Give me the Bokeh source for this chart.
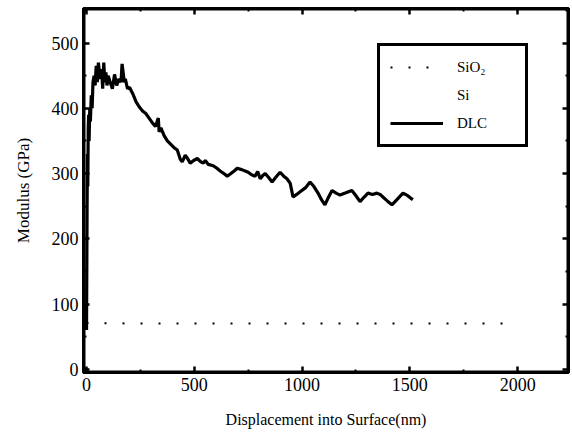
from bokeh.plotting import figure
from bokeh.models import Range1d, LinearAxis, Legend, LegendItem, FixedTicker, BoxAnnotation
from bokeh.embed import file_html
from bokeh.resources import INLINE

# ---- data ----
dlc_x = [0, 2, 4, 6, 8, 10, 12, 15, 18, 22,
         26, 30, 35, 40, 45, 50, 55, 60, 65, 70,
         75, 80, 85, 90, 95, 100, 110, 120, 130, 140,
         150, 160, 165, 170, 175, 180, 190, 200, 215, 230,
         245, 260, 275, 290, 305, 320, 333, 337, 345, 360,
         375, 390, 405, 421, 435, 444, 458, 467, 481, 497,
         514, 530, 542, 551, 565, 588, 605, 620, 637, 653,
         670, 685, 699, 720, 736, 750, 766, 782, 794, 806,
         818, 829, 845, 861, 880, 898, 915, 930, 945, 958,
         975, 991, 1015, 1037, 1055, 1074, 1090, 1106, 1120, 1139,
         1158, 1176, 1200, 1231, 1250, 1269, 1288, 1306, 1327, 1347,
         1362, 1375, 1395, 1417, 1440, 1468, 1490, 1505, 1514]
dlc_y = [60, 200, 330, 280, 370, 390, 350, 400, 380, 420,
         400, 440, 450, 435, 465, 440, 470, 455, 445, 460,
         430, 470, 440, 455, 435, 450, 440, 430, 452, 435,
         445, 440, 468, 455, 440, 445, 430, 432, 422, 410,
         402, 396, 392, 385, 378, 372, 385, 364, 370, 358,
         350, 345, 340, 336, 322, 318, 328, 324, 316, 320,
         323, 318, 316, 320, 314, 312, 308, 304, 300, 296,
         300, 304, 308, 306, 304, 302, 298, 296, 303, 292,
         297, 300, 294, 287, 295, 302, 296, 292, 285, 264,
         268, 272, 278, 287, 280, 270, 260, 252, 262, 274,
         270, 267, 270, 274, 266, 257, 264, 270, 268, 270,
         268, 264, 258, 252, 260, 270, 266, 262, 260]
sio2_x = [0, 250, 500, 750, 1000, 1250, 1500, 1750, 1950]
sio2_y = [71, 70, 70, 70, 70, 70, 70, 70, 70]
si_x = []
si_y = []

x_ticks = [0, 500, 1000, 1500, 2000]
x_minor = [250, 750, 1250, 1750, 2250]
y_ticks = [0, 100, 200, 300, 400, 500]
y_minor = [50, 150, 250, 350, 450, 550]
x_label = "Displacement into Surface(nm)"
y_label = "Modulus (GPa)"
names = ["SiO₂", "Si", "DLC"]

assert len(dlc_x) == len(dlc_y)

FONT = "Liberation Serif, Times New Roman, serif"

p = figure(width=572, height=438, output_backend="svg", toolbar_location=None,
           x_range=Range1d(-14, 2236), y_range=Range1d(-5, 553),
           min_border_left=83, min_border_right=4, min_border_top=8,
           min_border_bottom=66)
p.grid.visible = False
p.outline_line_color = "black"
p.outline_line_alpha = 1
p.outline_line_width = 3
p.background_fill_color = "white"
p.border_fill_color = "white"

r_sio2 = p.line(sio2_x, sio2_y, line_color="black", line_width=2,
                line_dash="2 16")
r_si = p.line(si_x, si_y, line_color="black", line_width=2, line_alpha=0)
r_dlc = p.line(dlc_x, dlc_y, line_color="black", line_width=3.2)

# heavy frame round the plot area
p.add_layout(BoxAnnotation(fill_alpha=0, line_color="black", line_alpha=1,
                           line_width=4))


def style_axis(ax, labels=True):
    ax.axis_line_color = "black"
    ax.axis_line_alpha = 1
    ax.axis_line_width = 3
    ax.major_tick_in = 6
    ax.major_tick_out = 0
    ax.minor_tick_in = 3
    ax.minor_tick_out = 0
    ax.major_tick_line_width = 2.5
    ax.minor_tick_line_width = 2
    ax.major_label_text_font = FONT
    ax.major_label_text_font_size = "18px"
    ax.major_label_text_color = "black"
    ax.axis_label_text_font = FONT
    ax.axis_label_text_font_size = "16px"
    ax.axis_label_text_font_style = "normal"
    ax.axis_label_text_color = "black"
    if not labels:
        ax.major_label_text_color = None


xt = FixedTicker(ticks=x_ticks, minor_ticks=x_minor)
yt = FixedTicker(ticks=y_ticks, minor_ticks=y_minor)

xa = p.xaxis[0]
xa.ticker = xt
xa.axis_label = x_label
xa.major_label_standoff = 5
xa.axis_label_standoff = 17
style_axis(xa)

ya = p.yaxis[0]
ya.ticker = yt
ya.axis_label = y_label
ya.major_label_standoff = 5
ya.axis_label_standoff = 16
style_axis(ya)
ya.axis_label_text_font_size = "17px"

ra = LinearAxis(ticker=yt)
style_axis(ra, labels=False)
p.add_layout(ra, "right")
ta = LinearAxis(ticker=xt)
style_axis(ta, labels=False)
p.add_layout(ta, "above")

legend = Legend(items=[LegendItem(label=names[0], renderers=[r_sio2]),
                       LegendItem(label=names[1], renderers=[r_si]),
                       LegendItem(label=names[2], renderers=[r_dlc])],
                location=(294, 225))
legend.border_line_color = "black"
legend.border_line_alpha = 1
legend.border_line_width = 3
legend.background_fill_color = "white"
legend.background_fill_alpha = 1
legend.label_text_font = FONT
legend.label_text_font_size = "15px"
legend.label_text_color = "black"
legend.padding = 10
legend.margin = 0
legend.spacing = 6
legend.glyph_width = 53
legend.glyph_height = 22
legend.label_height = 22
legend.label_width = 58
legend.label_standoff = 14
p.add_layout(legend, "center")

open("out.html", "w").write(file_html(p, INLINE))
